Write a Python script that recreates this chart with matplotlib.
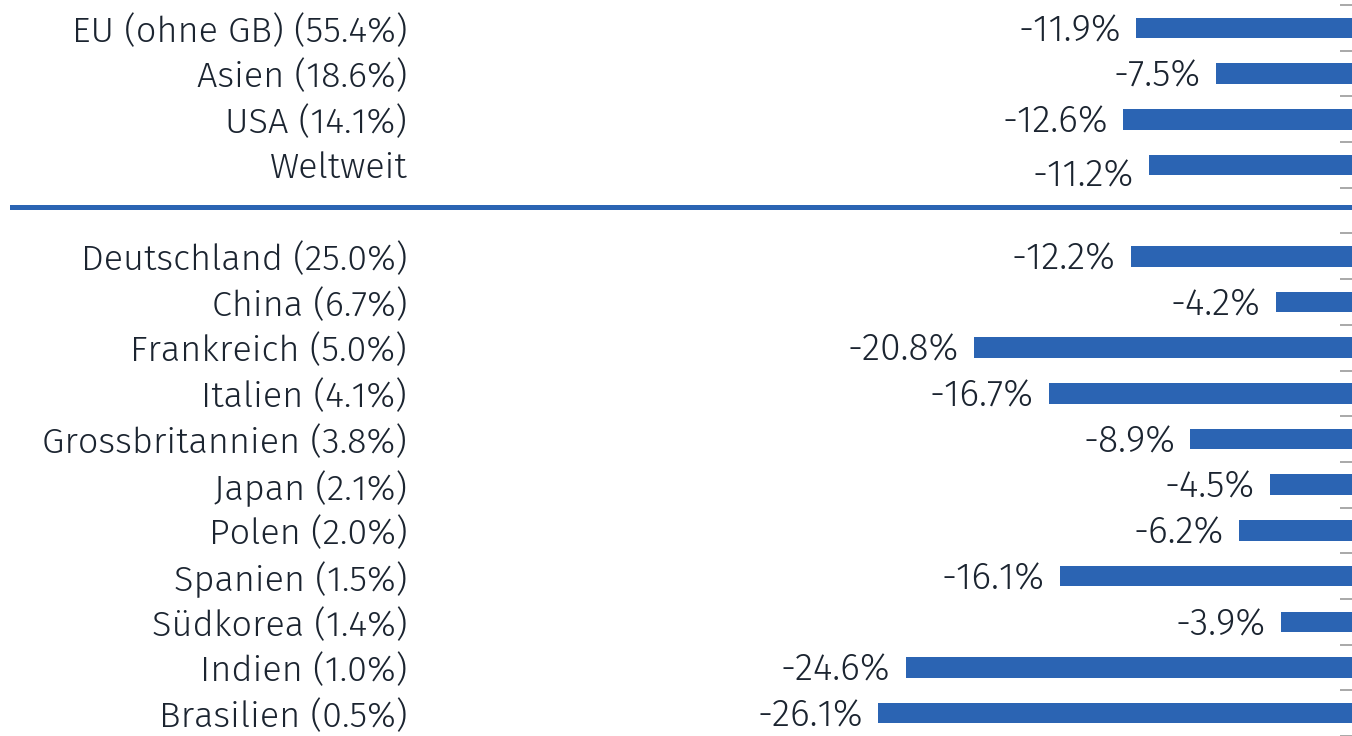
import numpy as np
import matplotlib
matplotlib.use("Agg")
import matplotlib.pyplot as plt

plt.rcParams["font.family"] = ["Fira Sans", "Open Sans", "DejaVu Sans"]

labels_top = ["EU (ohne GB) (55.4%)", "Asien (18.6%)", "USA (14.1%)", "Weltweit"]
values_top = [-11.9, -7.5, -12.6, -11.2]
labels_bottom = ["Deutschland (25.0%)", "China (6.7%)", "Frankreich (5.0%)",
                 "Italien (4.1%)", "Grossbritannien (3.8%)", "Japan (2.1%)",
                 "Polen (2.0%)", "Spanien (1.5%)", "Südkorea (1.4%)",
                 "Indien (1.0%)", "Brasilien (0.5%)"]
values_bottom = [-12.2, -4.2, -20.8, -16.7, -8.9, -4.5, -6.2, -16.1, -3.9,
                 -24.6, -26.1]

BLUE = "#2B64B3"
TEXT = "#1b2430"
FS = 26

labels = labels_top + labels_bottom
values = values_top + values_bottom
# one empty slot between the two groups
pos = list(range(len(labels_top))) + \
    [len(labels_top) + 1 + i for i in range(len(labels_bottom))]

fig = plt.figure(figsize=(13.52, 7.36), dpi=100)
ax = fig.add_axes([410 / 1352, 0, 942 / 1352, 1])

ax.barh(pos, values, height=0.45, color=BLUE)
ax.set_xlim(-51.9, 0)
ax.set_ylim(15.39, -0.61)

for p, v, lab in zip(pos, values, labels):
    dy = -8 if lab == "Weltweit" else -2
    ax.annotate(f"{v:.1f}%", (v, p), xytext=(-11, dy),
                textcoords="offset points", ha="right", va="center",
                fontsize=FS + 1, color=TEXT, fontweight=350)

ax.set_yticks(pos)
ax.set_yticklabels(labels, fontsize=FS, color=TEXT, fontweight=350)
ax.tick_params(axis="y", which="major", length=0, pad=2)
ax.set_yticks(np.arange(-0.5, 16, 1), minor=True)
ax.tick_params(axis="y", which="minor", left=False, right=True,
               direction="in", length=8.5, width=1.2, color="#9a9a9a")
ax.set_xticks([])
for s in ax.spines.values():
    s.set_visible(False)

# divider between aggregate regions and single countries
ax.axhline(3.91, xmin=(12 - 410) / 942, xmax=1, color=BLUE, lw=3.6,
           clip_on=False)

fig.savefig("out.png", dpi=100)
